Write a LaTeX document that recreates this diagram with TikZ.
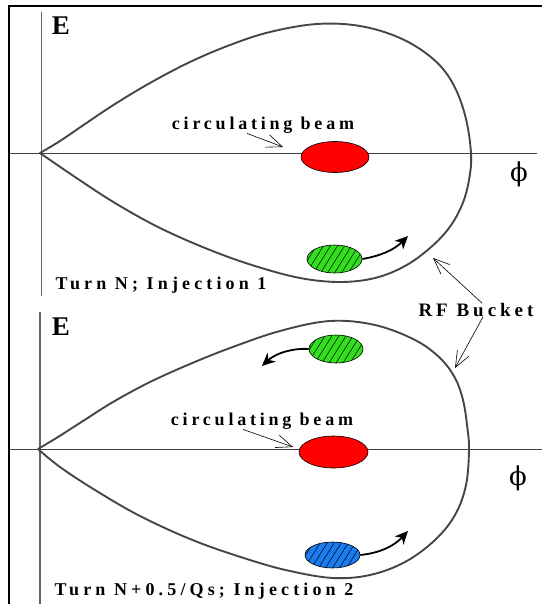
\documentclass[tikz,border=0pt]{standalone}
\usepackage{fontspec}
\setmainfont{Liberation Serif}
\newfontfamily\lblfont[LetterSpace=21]{Liberation Serif}
\newfontfamily\lblfontw[LetterSpace=23]{Liberation Serif}
\newfontfamily\phifont{DejaVu Serif}
\usetikzlibrary{arrows.meta,shapes.geometric,calc}
\definecolor{beamgreen}{RGB}{50,222,30}
\definecolor{beamblue}{RGB}{25,125,240}
\definecolor{curvegray}{RGB}{70,70,70}
\definecolor{axisgray}{RGB}{100,100,100}
\begin{document}
\begin{tikzpicture}[x=1pt,y=-1pt,
  frameline/.style={line width=2.2pt,black},
  eaxis/.style={line width=1.1pt,axisgray},
  phiaxis/.style={line width=0.9pt,black!75},
  bucket/.style={line width=1.9pt,curvegray,line join=round,line cap=round},
  beam/.style={ellipse,draw=black,line width=0.6pt,inner sep=0pt},
  hatch/.style={path picture={\foreach \i in {-49,-42,...,42}{\draw[line width=0.5pt,black] ($(path picture bounding box.south)+(\i pt,0pt)$) -- ++(58:45pt);}}},
  lbl/.style={font=\lblfont\bfseries\fontsize{18}{18}\selectfont,inner sep=0pt},
  lblw/.style={font=\lblfontw\bfseries\fontsize{18}{18}\selectfont,inner sep=0pt},
  elbl/.style={font=\bfseries\fontsize{27}{27}\selectfont,inner sep=0pt},
  philbl/.style={font=\phifont\fontsize{26}{26}\selectfont,inner sep=0pt},
  barb/.style={-{Straight Barb[length=16pt,width=13pt]},line width=0.6pt},
  move/.style={-{Stealth[length=13pt,width=12pt,inset=4pt]},line width=1.8pt}]
\useasboundingbox (0,0) rectangle (542,604);
% frame
\draw[frameline] (9,604) -- (9,6.3) -- (542,6.3);
% ---------- panel 1 ----------
\draw[eaxis] (41.5,12.5) -- (41.5,296);
\draw[phiaxis] (9,153) -- (537,153);
\node[elbl] (E1) at (61,26) {E};
\node[philbl] (phi1) at (519,174) {ϕ};
\draw[bucket] plot[smooth,tension=0.6] coordinates {(40,153) (60,141) (85,124) (115,104) (150,83) (190,62) (230,45) (270,32) (317,24) (360,26) (400,38) (432,58) (452,82) (465,115) (471,153) (469,180) (462,205) (449,228) (430,248) (405,266) (375,278) (340,282) (300,278) (255,266) (210,250) (160,228) (115,203) (75,177) (40,153)};
\node[beam,fill=red,minimum width=68pt,minimum height=31pt] (red1) at (335,157) {};
\node[beam,fill=beamgreen,hatch,minimum width=55pt,minimum height=28pt] (g1) at (334.5,259) {};
\coordinate (g1tip) at (408,236);
\draw[move] (g1.east) .. controls (380,256) and (394,250) .. (g1tip);
\node[lbl] (cb1) at (263,125) {circulating beam};
\coordinate (cb1tip) at (283,147);
\draw[barb] ([xshift=-16pt]cb1.south) -- (cb1tip);
\node[lblw] (t1) at (161,285) {Turn N; Injection 1};
% RF bucket
\node[lbl,font=\lblfont\bfseries\fontsize{19}{19}\selectfont] (rf) at (476,310) {RF Bucket};
\coordinate (rftip1) at (433,258);
\coordinate (rftip2) at (455,368);
\draw[barb] ([xshift=6pt]rf.north) -- (rftip1);
\draw[barb] ([xshift=7pt]rf.south) -- (rftip2);
% ---------- panel 2 ----------
\draw[eaxis] (40,312) -- (40,604);
\draw[phiaxis] (9,449) -- (542,449);
\node[elbl] (E2) at (61,327) {E};
\node[philbl] (phi2) at (518,478) {ϕ};
\draw[bucket] plot[smooth,tension=0.6] coordinates {(38,449) (58,437) (83,421) (113,402) (150,382) (190,364) (230,348) (280,331) (330,321) (375,325) (415,340) (440,358) (455,378) (463,400) (467,425) (469,449) (466,485) (455,515) (435,540) (405,562) (370,575) (333,578) (290,571) (250,560) (195,541) (140,516) (95,490) (60,467) (38,449)};
\node[beam,fill=red,minimum width=69pt,minimum height=32pt] (red2) at (333.5,452) {};
\node[beam,fill=beamgreen,hatch,minimum width=54pt,minimum height=28pt] (g2) at (336,349) {};
\coordinate (g2tip) at (262,366);
\draw[move] (g2.west) .. controls (293,348) and (276,353) .. (g2tip);
\node[beam,fill=beamblue,hatch,minimum width=55pt,minimum height=26pt] (b2) at (332.5,555) {};
\coordinate (b2tip) at (408,531);
\draw[move] (b2.east) .. controls (380,553) and (394,546) .. (b2tip);
\node[lbl] (cb2) at (262,421) {circulating beam};
\coordinate (cb2tip) at (293,447);
\draw[barb] ([xshift=-19pt]cb2.south) -- (cb2tip);
\node[lblw] (t2) at (204,591.5) {Turn N+0.5/Qs; Injection 2};
\end{tikzpicture}
\end{document}
